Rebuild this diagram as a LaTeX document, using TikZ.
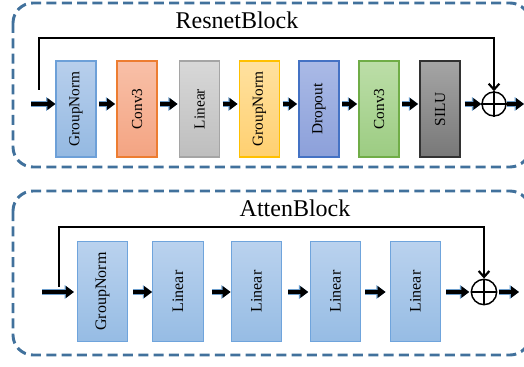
\documentclass[tikz,border=0pt]{standalone}
\usepackage{fontspec}
\setmainfont{Liberation Serif}
\usepackage{tikz}
\usetikzlibrary{arrows.meta}

\definecolor{frameblue}{RGB}{65,113,156}
\definecolor{edgeblue}{RGB}{46,117,182}
% layer colours: edge, top, bottom
\definecolor{gnEdge}{RGB}{109,160,216}\definecolor{gnTop}{RGB}{184,207,236}\definecolor{gnBot}{RGB}{148,185,226}
\definecolor{cvEdge}{RGB}{237,125,49}\definecolor{cvTop}{RGB}{248,192,168}\definecolor{cvBot}{RGB}{244,164,130}
\definecolor{lnEdge}{RGB}{165,165,165}\definecolor{lnTop}{RGB}{216,216,216}\definecolor{lnBot}{RGB}{190,190,190}
\definecolor{ygEdge}{RGB}{255,192,0}\definecolor{ygTop}{RGB}{255,225,160}\definecolor{ygBot}{RGB}{255,208,112}
\definecolor{dpEdge}{RGB}{68,114,196}\definecolor{dpTop}{RGB}{170,186,230}\definecolor{dpBot}{RGB}{140,160,218}
\definecolor{grEdge}{RGB}{112,173,71}\definecolor{grTop}{RGB}{188,222,168}\definecolor{grBot}{RGB}{156,204,130}
\definecolor{slEdge}{RGB}{50,50,50}\definecolor{slTop}{RGB}{165,165,165}\definecolor{slBot}{RGB}{120,120,120}
\definecolor{atEdge}{RGB}{111,164,220}\definecolor{atTop}{RGB}{186,210,238}\definecolor{atBot}{RGB}{150,188,228}

\begin{document}
\begin{tikzpicture}[x=0.75pt,y=0.75pt,yscale=-1,xscale=1,
  frame/.style={draw=frameblue, line width=2.2pt, dash pattern=on 7.5pt off 4pt, rounded corners=15pt},
  layer/.style={draw=#1Edge, top color=#1Top, bottom color=#1Bot, line width=0.8pt, minimum width=30pt, minimum height=72pt, inner sep=0pt, font=\fontsize{11.5}{13}\selectfont},
  attlayer/.style={draw=atEdge, top color=atTop, bottom color=atBot, line width=0.8pt, minimum width=38pt, minimum height=75.5pt, inner sep=0pt, font=\fontsize{12}{14}\selectfont},
  flow/.style={line width=3pt, -{Triangle[length=6pt,width=8.5pt]}, preaction={draw=edgeblue!70, line width=4.4pt, -{Triangle[length=7pt,width=10pt]}}},
  skip/.style={line width=1.3pt, -{Straight Barb[length=4.5pt,width=8pt,line width=1.6pt]}},
  addop/.style={circle, draw, line width=1.1pt, minimum size=18pt, inner sep=0pt},
  title/.style={anchor=base, font=\fontsize{18}{20}\selectfont}]

\useasboundingbox (0,0) rectangle (524,367);
\clip (0,0) rectangle (524,367);

%Resnet block frame
\draw [frame] (13,3) rectangle (530,167) ;
\node [title] (rtitle) at (237,29) {ResnetBlock};

%Resnet layers
\node [layer=gn] (gn1) at (76,109) {\rotatebox{90}{GroupNorm}};
\node [layer=cv] (cv1) at (137,109) {\rotatebox{90}{Conv3}};
\node [layer=ln] (lin) at (199.5,109) {\rotatebox{90}{Linear}};
\node [layer=yg] (gn2) at (259.5,109) {\rotatebox{90}{GroupNorm}};
\node [layer=dp] (drop) at (319,109) {\rotatebox{90}{Dropout}};
\node [layer=gr] (cv2) at (379,109) {\rotatebox{90}{Conv3}};
\node [layer=sl] (silu) at (440,109) {\rotatebox{90}{SILU}};
\node [addop] (add1) at (494,104) {};
\draw [line width=1.1pt] (add1.north) -- (add1.south) (add1.west) -- (add1.east) ;

%Resnet flow
\coordinate (rin) at (31,104);
\coordinate (rout) at (524,104);
\coordinate (rsplit) at (39,90);
\draw [flow] (rin) -- (gn1.west |- rin) ;
\draw [flow, shorten <=2pt, shorten >=1pt] (gn1.east |- rin) -- (cv1.west |- rin) ;
\draw [flow, shorten <=2pt, shorten >=1pt] (cv1.east |- rin) -- (lin.west |- rin) ;
\draw [flow, shorten <=2pt, shorten >=1pt] (lin.east |- rin) -- (gn2.west |- rin) ;
\draw [flow, shorten <=2pt, shorten >=1pt] (gn2.east |- rin) -- (drop.west |- rin) ;
\draw [flow, shorten <=2pt, shorten >=1pt] (drop.east |- rin) -- (cv2.west |- rin) ;
\draw [flow, shorten <=2pt, shorten >=1pt] (cv2.east |- rin) -- (silu.west |- rin) ;
\draw [flow, shorten <=3pt] (silu.east |- rin) -- (add1.west) ;
\draw [flow] (add1.east) -- (rout) ;
\draw [skip] (rsplit) -- (39,38) -- (494,38) -- (add1.north) ;

%Atten block frame
\draw [frame] (13,191) rectangle (530,355) ;
\node [title] (atitle) at (295,216) {AttenBlock};

%Atten layers
\node [attlayer] (agn) at (102.5,291.5) {\rotatebox{90}{GroupNorm}};
\node [attlayer] (alin1) at (178,291.5) {\rotatebox{90}{Linear}};
\node [attlayer] (alin2) at (256.5,291.5) {\rotatebox{90}{Linear}};
\node [attlayer] (alin3) at (335.5,291.5) {\rotatebox{90}{Linear}};
\node [attlayer] (alin4) at (415.5,291.5) {\rotatebox{90}{Linear}};
\node [addop, minimum size=19pt] (add2) at (484,292) {};
\draw [line width=1.1pt] (add2.north) -- (add2.south) (add2.west) -- (add2.east) ;

%Atten flow
\coordinate (ain) at (42,292);
\coordinate (aout) at (519,292);
\coordinate (asplit) at (59,287);
\draw [flow, shorten >=2pt] (ain) -- (agn.west |- ain) ;
\draw [flow, shorten <=3.5pt] (agn.east |- ain) -- (alin1.west |- ain) ;
\draw [flow, shorten <=6pt] (alin1.east |- ain) -- (alin2.west |- ain) ;
\draw [flow, shorten <=4.5pt, shorten >=1pt] (alin2.east |- ain) -- (alin3.west |- ain) ;
\draw [flow, shorten <=3pt, shorten >=3pt] (alin3.east |- ain) -- (alin4.west |- ain) ;
\draw [flow, shorten <=3.5pt, shorten >=1pt] (alin4.east |- ain) -- (add2.west) ;
\draw [flow, shorten <=1pt] (add2.east) -- (aout) ;
\draw [skip] (asplit) -- (59,227) -- (484,227) -- (add2.north) ;

\end{tikzpicture}
\end{document}
